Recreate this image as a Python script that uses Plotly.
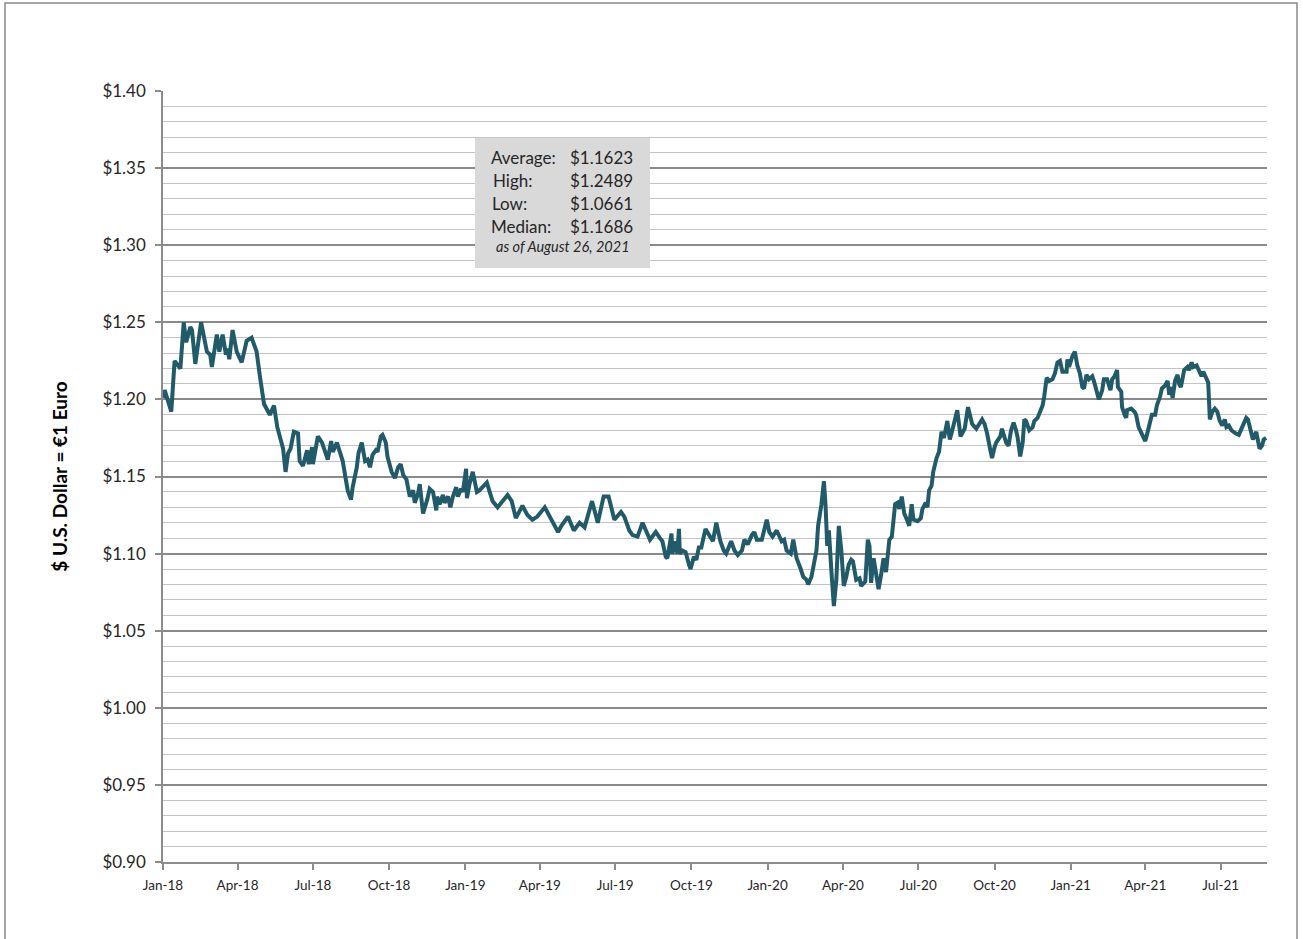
import pandas as pd
import plotly.graph_objects as go

# ---- data ----
start_date = "2018-01-01"
days_since_start = [
    0, 2, 10, 14, 21, 25, 28, 33, 35, 39, 46, 53, 57, 59, 65, 68, 72, 76, 78, 80,
    84, 89, 95, 101, 107, 113, 117, 122, 129, 134, 138, 142, 145, 148, 151, 154, 158, 163, 165, 169,
    174, 176, 180, 181, 185, 187, 192, 195, 199, 203, 205, 210, 214, 217, 223, 227, 229, 234, 236, 240,
    244, 247, 250, 253, 257, 259, 263, 265, 269, 271, 276, 280, 284, 287, 290, 294, 298, 302, 304, 308,
    310, 314, 319, 322, 326, 330, 331, 334, 338, 340, 344, 347, 350, 354, 356, 360, 362, 366, 367, 370,
    374, 377, 379, 382, 386, 391, 395, 398, 404, 410, 416, 421, 426, 431, 434, 440, 446, 452, 461, 467,
    477, 481, 489, 496, 503, 509, 518, 525, 530, 532, 538, 545, 553, 557, 563, 567, 573, 579, 588, 595,
    600, 603, 607, 609, 614, 615, 619, 621, 623, 624, 627, 631, 635, 637, 641, 644, 647, 650, 655, 660,
    664, 668, 673, 677, 680, 686, 690, 694, 699, 702, 706, 711, 714, 717, 723, 729, 732, 736, 741, 747,
    750, 753, 758, 761, 765, 770, 773, 777, 779, 783, 787, 789, 791, 795, 798, 800, 802, 804, 807, 810,
    813, 816, 819, 822, 825, 828, 831, 833, 837, 841, 843, 848, 851, 853, 855, 858, 861, 864, 867, 870,
    873, 875, 877, 880, 882, 884, 887, 889, 892, 895, 899, 901, 904, 906, 911, 915, 917, 921, 923, 925,
    928, 930, 934, 937, 940, 943, 947, 950, 953, 959, 963, 968, 972, 976, 977, 982, 986, 989, 992, 995,
    999, 1001, 1004, 1006, 1011, 1013, 1018, 1021, 1024, 1027, 1030, 1032, 1035, 1038, 1040, 1042, 1046, 1050, 1052, 1056,
    1059, 1062, 1064, 1067, 1070, 1074, 1077, 1080, 1083, 1086, 1091, 1092, 1094, 1098, 1101, 1104, 1107, 1110, 1112, 1115,
    1118, 1122, 1124, 1127, 1130, 1134, 1136, 1140, 1144, 1146, 1149, 1152, 1153, 1157, 1158, 1161, 1163, 1164, 1169, 1173,
    1175, 1178, 1181, 1184, 1186, 1188, 1191, 1193, 1194, 1198, 1200, 1204, 1206, 1210, 1213, 1215, 1217, 1219, 1222, 1225,
    1227, 1229, 1233, 1237, 1239, 1242, 1244, 1248, 1250, 1254, 1256, 1260, 1262, 1264, 1267, 1270, 1273, 1276, 1279, 1282,
    1284, 1287, 1290, 1295, 1299, 1303, 1308, 1310, 1314, 1316, 1320, 1321, 1324, 1327, 1329, 1332,
]
usd_per_eur = [
    1.201, 1.206, 1.192, 1.225, 1.220, 1.250, 1.237, 1.247, 1.245, 1.223, 1.250, 1.231, 1.229, 1.221, 1.242, 1.231, 1.242, 1.229, 1.233, 1.226,
    1.245, 1.231, 1.224, 1.238, 1.240, 1.231, 1.215, 1.197, 1.190, 1.196, 1.182, 1.175, 1.168, 1.153, 1.165, 1.168, 1.179, 1.178, 1.160, 1.157,
    1.167, 1.158, 1.169, 1.158, 1.168, 1.176, 1.172, 1.167, 1.161, 1.173, 1.166, 1.172, 1.166, 1.160, 1.141, 1.135, 1.143, 1.156, 1.165, 1.172,
    1.160, 1.161, 1.156, 1.164, 1.167, 1.166, 1.176, 1.177, 1.172, 1.163, 1.153, 1.149, 1.156, 1.158, 1.151, 1.148, 1.137, 1.141, 1.133, 1.139,
    1.145, 1.126, 1.135, 1.142, 1.140, 1.128, 1.137, 1.132, 1.138, 1.133, 1.137, 1.130, 1.137, 1.143, 1.137, 1.142, 1.140, 1.155, 1.136, 1.145,
    1.153, 1.146, 1.140, 1.141, 1.143, 1.146, 1.139, 1.134, 1.130, 1.134, 1.138, 1.134, 1.123, 1.128, 1.131, 1.125, 1.122, 1.124, 1.130, 1.124,
    1.114, 1.118, 1.124, 1.115, 1.120, 1.117, 1.134, 1.120, 1.133, 1.137, 1.137, 1.122, 1.127, 1.124, 1.115, 1.112, 1.111, 1.120, 1.109, 1.114,
    1.110, 1.108, 1.098, 1.097, 1.113, 1.100, 1.108, 1.100, 1.116, 1.100, 1.102, 1.101, 1.093, 1.090, 1.098, 1.096, 1.104, 1.104, 1.116, 1.112,
    1.108, 1.120, 1.108, 1.102, 1.100, 1.108, 1.102, 1.099, 1.102, 1.109, 1.106, 1.112, 1.114, 1.109, 1.109, 1.122, 1.114, 1.111, 1.115, 1.108,
    1.109, 1.102, 1.100, 1.109, 1.097, 1.090, 1.085, 1.083, 1.080, 1.085, 1.096, 1.102, 1.118, 1.132, 1.147, 1.131, 1.105, 1.115, 1.089, 1.066,
    1.083, 1.118, 1.102, 1.079, 1.085, 1.093, 1.096, 1.095, 1.083, 1.084, 1.079, 1.082, 1.109, 1.105, 1.081, 1.097, 1.087, 1.077, 1.086, 1.097,
    1.088, 1.098, 1.109, 1.111, 1.124, 1.132, 1.133, 1.129, 1.137, 1.126, 1.121, 1.118, 1.132, 1.122, 1.121, 1.123, 1.129, 1.133, 1.130, 1.141,
    1.144, 1.153, 1.162, 1.166, 1.179, 1.175, 1.186, 1.174, 1.180, 1.193, 1.176, 1.181, 1.195, 1.187, 1.184, 1.181, 1.185, 1.187, 1.184, 1.178,
    1.167, 1.162, 1.169, 1.172, 1.176, 1.181, 1.172, 1.170, 1.180, 1.185, 1.180, 1.175, 1.163, 1.172, 1.187, 1.186, 1.180, 1.182, 1.186, 1.188,
    1.192, 1.196, 1.202, 1.214, 1.212, 1.213, 1.217, 1.224, 1.225, 1.218, 1.218, 1.226, 1.221, 1.228, 1.231, 1.222, 1.217, 1.208, 1.207, 1.216,
    1.213, 1.215, 1.212, 1.206, 1.200, 1.206, 1.213, 1.213, 1.206, 1.213, 1.215, 1.219, 1.208, 1.205, 1.195, 1.190, 1.188, 1.193, 1.194, 1.192,
    1.190, 1.182, 1.179, 1.176, 1.173, 1.177, 1.183, 1.188, 1.190, 1.190, 1.196, 1.202, 1.207, 1.209, 1.212, 1.203, 1.208, 1.201, 1.212, 1.216,
    1.210, 1.208, 1.219, 1.221, 1.219, 1.224, 1.221, 1.222, 1.220, 1.215, 1.218, 1.214, 1.211, 1.187, 1.192, 1.194, 1.192, 1.186, 1.183, 1.187,
    1.182, 1.183, 1.180, 1.178, 1.177, 1.182, 1.188, 1.187, 1.179, 1.174, 1.179, 1.176, 1.168, 1.170, 1.174, 1.175,
]
tick_dates = ["2018-01-01", "2018-04-01", "2018-07-01", "2018-10-01",
              "2019-01-01", "2019-04-01", "2019-07-01", "2019-10-01",
              "2020-01-01", "2020-04-01", "2020-07-01", "2020-10-01",
              "2021-01-01", "2021-04-01", "2021-07-01"]
tick_labels = ["Jan-18", "Apr-18", "Jul-18", "Oct-18", "Jan-19", "Apr-19", "Jul-19", "Oct-19",
               "Jan-20", "Apr-20", "Jul-20", "Oct-20", "Jan-21", "Apr-21", "Jul-21"]
end_date = "2021-08-26"
stat_labels = ["Average:", "High:", "Low:", "Median:"]
stat_values = ["$1.1623", "$1.2489", "$1.0661", "$1.1686"]
as_of_text = "as of August 26, 2021"
y_title = "$ U.S. Dollar = €1 Euro"

dates = pd.Timestamp(start_date) + pd.to_timedelta(days_since_start, unit="D")

FONT = "Lato, 'Open Sans', sans-serif"
LINE_COLOR = "#215a69"

# plot area in page pixels: x 163..1267, y 91..862
PL, PR, PT, PB = 163, 1267, 91, 862


def px(x):
    return (x - PL) / (PR - PL)


def py(y):
    return (PB - y) / (PB - PT)


fig = go.Figure()
fig.add_trace(go.Scatter(
    x=dates, y=usd_per_eur, mode="lines",
    line=dict(color=LINE_COLOR, width=4),
    hoverinfo="x+y", showlegend=False,
))

fig.update_layout(
    width=1303, height=939,
    margin=dict(l=PL, r=1303 - PR, t=PT, b=939 - PB),
    paper_bgcolor="white", plot_bgcolor="white",
    font=dict(family=FONT, color="#262626"),
)
fig.update_xaxes(
    type="date",
    range=[start_date, end_date],
    tickvals=tick_dates, ticktext=tick_labels,
    tickfont=dict(size=13.5, family=FONT, color="#262626"),
    ticks="outside", ticklen=6, tickwidth=1.5, tickcolor="#8c8c8c",
    ticklabelstandoff=4,
    showgrid=False, zeroline=False,
    showline=True, linecolor="#8c8c8c", linewidth=1.5,
)
fig.update_yaxes(
    range=[0.90, 1.40], dtick=0.05, tick0=0.90,
    tickprefix="$", tickformat=".2f",
    tickfont=dict(size=17, family=FONT, color="#262626"),
    ticks="outside", ticklen=6, tickwidth=1.5, tickcolor="#8c8c8c",
    ticklabelstandoff=6,
    showgrid=True, gridcolor="#8a8a8a", gridwidth=1.5,
    minor=dict(dtick=0.01, tick0=0.90, showgrid=True, gridcolor="#c4c4c4", gridwidth=1.3),
    zeroline=False,
    showline=True, linecolor="#8c8c8c", linewidth=1.5,
    title=dict(text=y_title, font=dict(size=19, family=FONT, color="#000000", weight="bold"),
               standoff=30),
)

# statistics box
fig.add_shape(type="rect", xref="paper", yref="paper",
              x0=px(475), x1=px(650), y0=py(268), y1=py(138),
              fillcolor="#d9d9d9", line=dict(width=0), layer="above")
row_px = [157, 180, 203, 226]
label_x = [489, 491, 490, 489]
for lab, val, ry, lx in zip(stat_labels, stat_values, row_px, label_x):
    fig.add_annotation(xref="paper", yref="paper", x=px(lx), y=py(ry),
                       text=lab, showarrow=False, xanchor="left", yanchor="middle",
                       font=dict(size=17, family=FONT, color="#262626"))
    fig.add_annotation(xref="paper", yref="paper", x=px(635), y=py(ry),
                       text=val, showarrow=False, xanchor="right", yanchor="middle",
                       font=dict(size=17, family=FONT, color="#262626"))
fig.add_annotation(xref="paper", yref="paper", x=px(563), y=py(247),
                   text="<i>" + as_of_text + "</i>", showarrow=False,
                   xanchor="center", yanchor="middle",
                   font=dict(size=14.5, family=FONT, color="#262626"))

# outer frame
fig.add_shape(type="rect", xref="paper", yref="paper",
              x0=px(5), x1=px(1297), y0=py(960), y1=py(3),
              line=dict(color="#8a8a8a", width=1.5), fillcolor="rgba(0,0,0,0)")

fig.write_html("out.html",
               config={"displayModeBar": False},
               post_script="document.body.style.margin='0px';document.body.style.overflow='hidden';")
